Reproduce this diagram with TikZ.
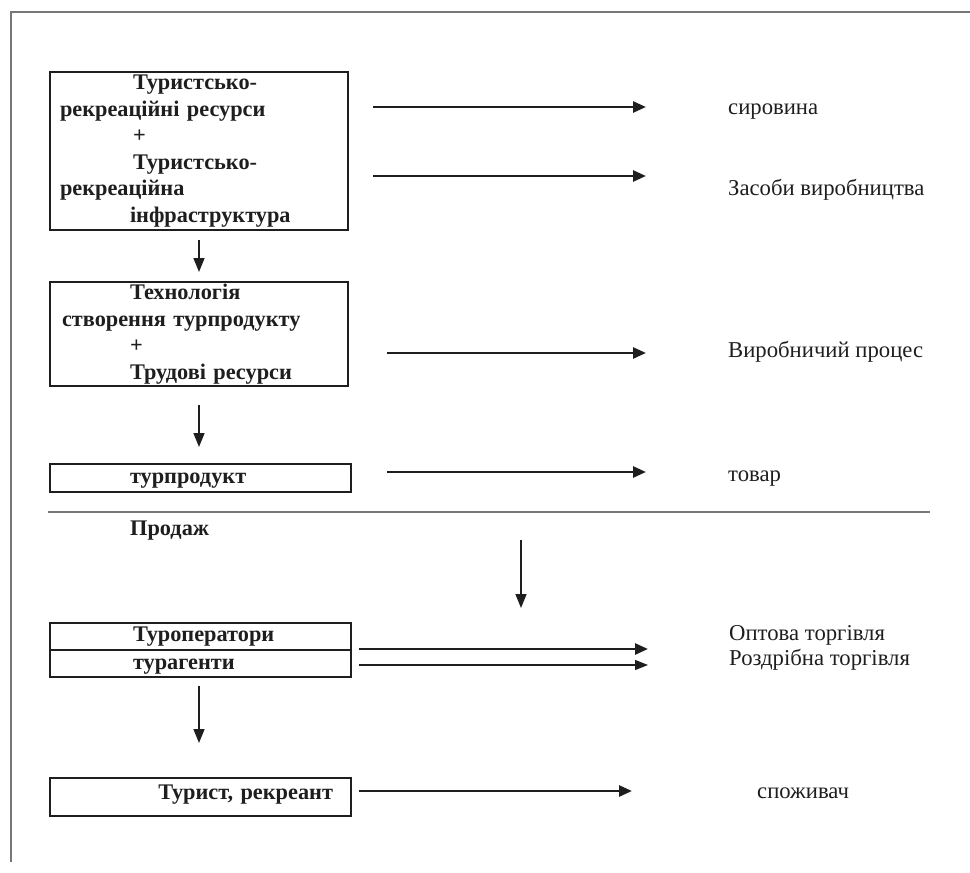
\documentclass[tikz,border=0pt]{standalone}
\usepackage{fontspec}
\setmainfont{Liberation Serif}
\usetikzlibrary{arrows.meta}
\definecolor{ink}{HTML}{1E1E1E}
\definecolor{rule}{HTML}{777777}
\newcommand\lowered[2]{\raisebox{#1}[0pt][0pt]{#2}}
\begin{document}
\begin{tikzpicture}[x=1pt,y=-1pt,
  box/.style={draw=ink, line width=2.4pt, inner sep=0pt, text=ink,
    font=\fontsize{22.3}{26.5}\selectfont\bfseries},
  lbl/.style={anchor=west, inner sep=0pt, text=ink, font=\fontsize{22.7}{26}\selectfont},
  harrow/.style={draw=ink, line width=2.6pt, -{Triangle[length=13pt,width=11pt]}},
  thinarrow/.style={draw=ink, line width=1.3pt, -{Triangle[length=13pt,width=10pt]}},
  varrow/.style={draw=ink, line width=1.5pt, -{Triangle[length=14pt,width=11pt]}},
  framel/.style={draw=rule, line width=1.5pt},
  sepl/.style={draw=rule, line width=1.2pt}]
\useasboundingbox (0,0) rectangle (970,873);
% frame
\coordinate (fr1) at (970,12);
\coordinate (fr2) at (11,12);
\coordinate (fr3) at (11,862);
\draw[framel] (fr1) -- (fr2) -- (fr3);
% boxes
\node[box, minimum width=298pt, minimum height=158pt, text width=278pt, align=left] (b1) at (199,151)
  {\hspace*{73pt}Туристсько-\\рекреаційні ресурси\\\hspace*{73pt}+\\\hspace*{73pt}Туристсько-\\рекреаційна\\\hspace*{70pt}інфраструктура};
\node[box, minimum width=298pt, minimum height=104pt, text width=274pt, align=left] (b2) at (199,334)
  {\hspace*{68pt}Технологія\\створення турпродукту\\\hspace*{68pt}+\\\hspace*{68pt}Трудові ресурси};
\node[box, minimum width=301pt, minimum height=28pt, text width=301pt, align=left] (b3) at (200.5,478)
  {\hspace*{80pt}\lowered{-5pt}{турпродукт}};
\node[box, minimum width=301pt, minimum height=27pt, text width=301pt, align=left] (b4a) at (200.5,636.5)
  {\hspace*{83pt}\lowered{-5pt}{Туроператори}};
\node[box, minimum width=301pt, minimum height=27pt, text width=301pt, align=left] (b4b) at (200.5,663.5)
  {\hspace*{83pt}\lowered{-5.5pt}{турагенти}};
\node[box, minimum width=301pt, minimum height=38pt, text width=265pt, align=right] (b5) at (200.5,797)
  {\lowered{-2pt}{Турист, рекреант}};
% section rule and heading
\coordinate (s1) at (48,512);
\coordinate (s2) at (930,512);
\draw[sepl] (s1) -- (s2);
\node[lbl, font=\fontsize{22.3}{26}\selectfont\bfseries] (sale) at (130,531) {Продаж};
% right labels
\node[lbl] (l1) at (728,112) {сировина};
\node[lbl] (l2) at (728,190) {Засоби виробництва};
\node[lbl] (l3) at (728,352) {Виробничий процес};
\node[lbl] (l4) at (728,479) {товар};
\node[lbl] (l5) at (729,635) {Оптова торгівля};
\node[lbl] (l6) at (729,660) {Роздрібна торгівля};
\node[lbl] (l7) at (757,793) {споживач};
% horizontal arrows
\coordinate (a1s) at (373,107); \coordinate (a1e) at (646,107);
\coordinate (a2s) at (373,176); \coordinate (a2e) at (646,176);
\coordinate (a3s) at (387,353); \coordinate (a3e) at (646,353);
\coordinate (a4s) at (387,472); \coordinate (a4e) at (646,472);
\coordinate (a5s) at (359,649); \coordinate (a5e) at (648,649);
\coordinate (a6s) at (359,665); \coordinate (a6e) at (648,665);
\coordinate (a7s) at (359,791); \coordinate (a7e) at (632,791);
\draw[harrow] (a1s) -- (a1e);
\draw[harrow] (a2s) -- (a2e);
\draw[harrow] (a3s) -- (a3e);
\draw[harrow] (a4s) -- (a4e);
\draw[harrow] (a5s) -- (a5e);
\draw[thinarrow] (a6s) -- (a6e);
\draw[harrow] (a7s) -- (a7e);
% vertical arrows
\coordinate (d1s) at (199,240); \coordinate (d1e) at (199,272);
\coordinate (d2s) at (199,405); \coordinate (d2e) at (199,447);
\coordinate (d3s) at (521,540); \coordinate (d3e) at (521,608);
\coordinate (d4s) at (199,686); \coordinate (d4e) at (199,743);
\draw[varrow] (d1s) -- (d1e);
\draw[varrow] (d2s) -- (d2e);
\draw[varrow] (d3s) -- (d3e);
\draw[varrow] (d4s) -- (d4e);
\end{tikzpicture}
\end{document}
